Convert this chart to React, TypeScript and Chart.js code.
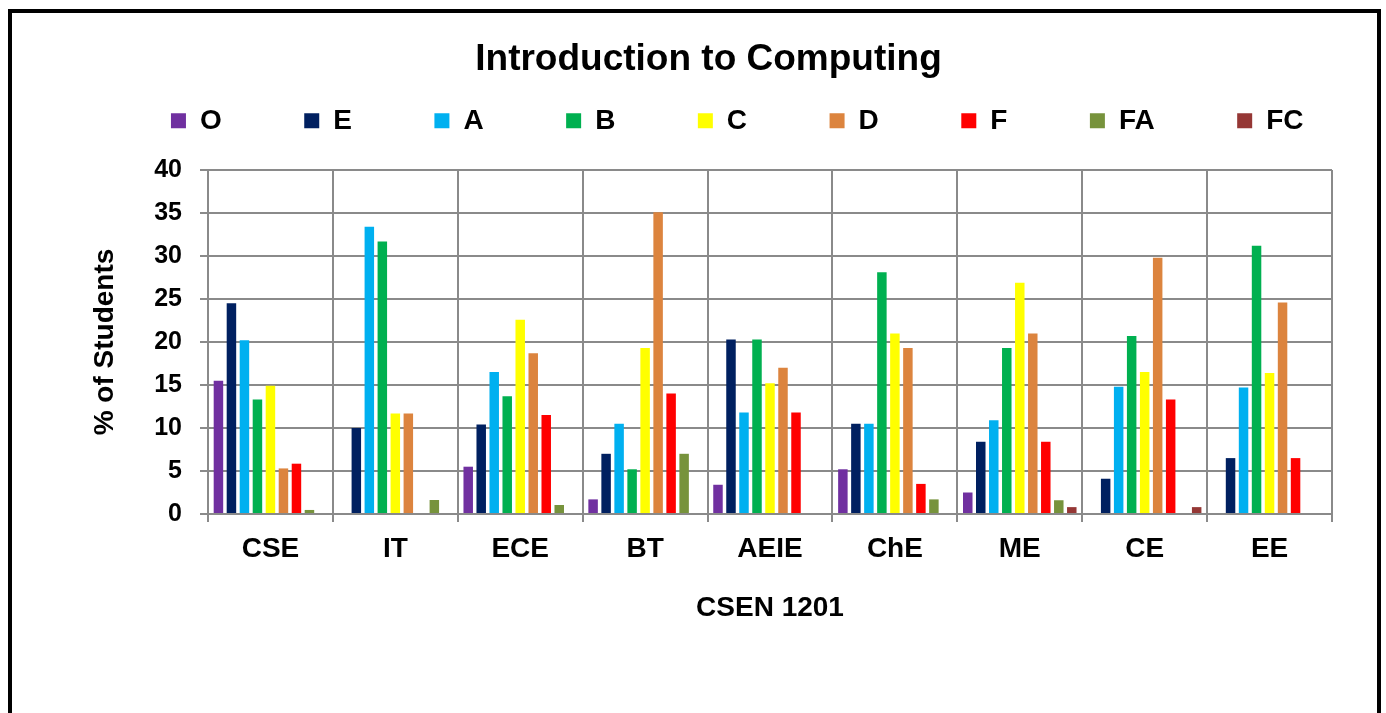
import React, { useEffect, useRef } from "react";
import { Chart, registerables } from "chart.js";

Chart.register(...registerables);

const chartTitle = "Introduction to Computing";
const xAxisTitle = "CSEN 1201";
const yAxisTitle = "% of Students";

const categories = ["CSE", "IT", "ECE", "BT", "AEIE", "ChE", "ME", "CE", "EE"];

const gradeNames = ["O", "E", "A", "B", "C", "D", "F", "FA", "FC"];
const gradeColors = ["#7030A0", "#002060", "#00B0F0", "#00B050", "#FFFF00", "#DC843E", "#FF0000", "#77933C", "#953735"];

const gradeO = [15.5, 0, 5.5, 1.7, 3.4, 5.2, 2.5, 0, 0];
const gradeE = [24.5, 10.0, 10.4, 7.0, 20.3, 10.5, 8.4, 4.1, 6.5];
const gradeA = [20.2, 33.4, 16.5, 10.5, 11.8, 10.5, 10.9, 14.8, 14.7];
const gradeB = [13.3, 31.7, 13.7, 5.2, 20.3, 28.1, 19.3, 20.7, 31.2];
const gradeC = [14.9, 11.7, 22.6, 19.3, 15.2, 21.0, 26.9, 16.5, 16.4];
const gradeD = [5.3, 11.7, 18.7, 35.1, 17.0, 19.3, 21.0, 29.8, 24.6];
const gradeF = [5.85, 0, 11.5, 14.0, 11.8, 3.5, 8.4, 13.3, 6.5];
const gradeFA = [0.47, 1.63, 1.05, 7.0, 0, 1.7, 1.6, 0, 0];
const gradeFC = [0, 0, 0, 0, 0, 0, 0.8, 0.8, 0];

const yMin = 0;
const yMax = 40;
const yStep = 5;

const seriesValues = [gradeO, gradeE, gradeA, gradeB, gradeC, gradeD, gradeF, gradeFA, gradeFC];

const FONT = "'Liberation Sans', Arial, Helvetica, sans-serif";
const GRID = "#8a8a8a";

export default function App() {
  const canvasRef = useRef<HTMLCanvasElement | null>(null);

  useEffect(() => {
    if (!canvasRef.current) return;
    Chart.defaults.font.family = FONT;
    Chart.defaults.color = "#000000";

    const chart = new Chart(canvasRef.current, {
      type: "bar",
      data: {
        labels: categories,
        datasets: seriesValues.map((vals, i) => ({
          label: gradeNames[i],
          data: vals,
          backgroundColor: gradeColors[i],
          borderWidth: 0,
          barPercentage: 0.73,
          categoryPercentage: 0.937,
        })),
      },
      options: {
        responsive: false,
        animation: false,
        layout: { padding: { left: 31, right: 0, top: 24.3, bottom: 0 } },
        plugins: {
          tooltip: { enabled: false },
          title: {
            display: true,
            text: chartTitle,
            color: "#000",
            font: { size: 37, weight: "bold", family: FONT },
            padding: { top: -107.2, bottom: 88 },
          },
          legend: {
            display: true,
            position: "top",
            align: "end",
            weight: 3000,
            labels: {
              boxWidth: 15,
              boxHeight: 15,
              padding: 82.5,
              color: "#000",
              font: { size: 28, weight: "bold", family: FONT },
            },
          },
        },
        scales: {
          x: {
            grid: { color: GRID, lineWidth: 2, tickLength: 8, offset: true },
            border: { color: GRID, width: 2 },
            ticks: { color: "#000", padding: 10, font: { size: 28, weight: "bold", family: FONT } },
            title: {
              display: true,
              text: xAxisTitle,
              color: "#000",
              font: { size: 28, weight: "bold", family: FONT },
              padding: { top: 0, bottom: 88 },
            },
            afterFit: (scale: any) => {
              scale.height = 199;
              scale.paddingRight = 54;
            },
          },
          y: {
            min: yMin,
            max: yMax,
            ticks: { stepSize: yStep, color: "#000", padding: 18, font: { size: 25, weight: "bold", family: FONT } },
            grid: { color: GRID, lineWidth: 2, tickLength: 8 },
            border: { color: GRID, width: 2 },
            title: {
              display: true,
              text: yAxisTitle,
              color: "#000",
              font: { size: 28, weight: "bold", family: FONT },
              padding: { top: 57, bottom: 0 },
            },
            afterFit: (scale: any) => {
              scale.width = 177;
            },
          },
        },
      },
    });
    return () => chart.destroy();
  }, []);

  return (
    <div style={{ position: "absolute", left: 0, top: 0, width: 1386, height: 713, overflow: "hidden", background: "#fff" }}>
      <div
        style={{
          position: "absolute",
          left: 8,
          top: 9,
          width: 1373,
          height: 800,
          border: "4px solid #000",
          boxSizing: "border-box",
        }}
      />
      <canvas ref={canvasRef} width={1386} height={713} style={{ position: "absolute", left: 0, top: 0 }} />
    </div>
  );
}
